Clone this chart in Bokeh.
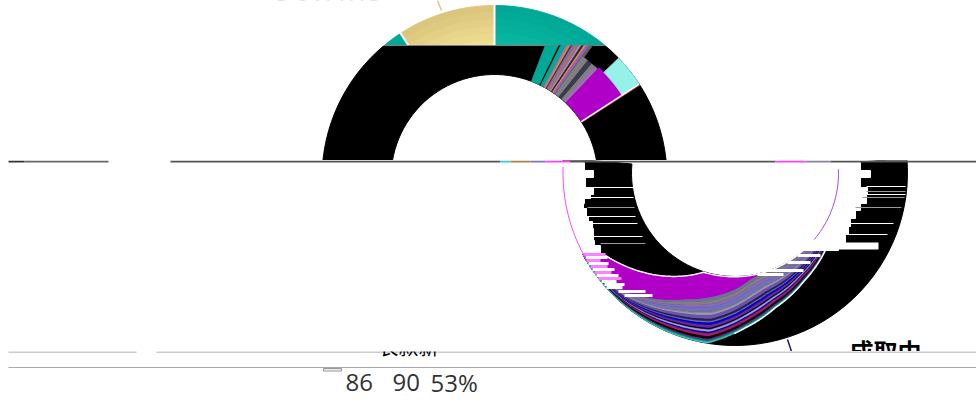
import numpy as np
from bokeh.plotting import figure
from bokeh.layouts import column
from bokeh.core.properties import value
from bokeh.embed import file_html
from bokeh.resources import INLINE

# ---------- data ----------
top_major_angles = [-39.5, -33.0, 0.0, 40.5]
top_major_colors = [("#00a896", "#00a896"), ("#dcc57d", "#efe092"), ("#00a896", "#0ab7a0")]
top_black_span = [-93, 93]
top_fan_sizes = [5.0, 0.6, 2.0, 0.5, 0.8, 0.6, 0.8, 0.6, 0.8, 0.6, 0.8, 0.6, 1.0, 0.8]
top_fan_colors = ["#00a896", "#000000", "#00a896", "#c060d0", "#e08040", "#404040", "#7070c0",
                  "#d06060", "#808080", "#c080c0", "#303030", "#e09050", "#9060c0", "#606060"]
top_gray_sizes = [2.5, 2.0, 1.5, 1.5]
top_gray_colors = ["#7f7f7f", "#3a3a50", "#7f7f7f", "#9a70b0"]
top_magenta = [43.5, 57.0]
top_aqua = [46.0, 57.0]

low_theta = [130.6, 147.0, 163.2, 176.0, 189.2, 240.0]
low_bottom_r = [119.0, 128.0, 140.5, 155.0, 172.5, 172.5]
low_top_theta = [130.6, 197.6, 237.5, 245.0]
low_top_r = [103.0, 104.0, 153.5, 172.5]
low_mag_theta = [165.0, 171.6, 180.0, 202.0, 221.7, 240.0]
low_mag_r = [103.0, 107.0, 116.0, 136.0, 160.0, 172.5]
strip_sizes = [5, 5, 4, 6, 2, 3, 5, 3, 2, 3, 4, 2, 3, 2, 4, 3, 2, 2, 1.5]
strip_colors = ["#6f6f9f", "#808080", "#8a6ab8", "#7070c0", "#808080", "#9a9ab0", "#7050b0",
                "#222244", "#7070c0", "#0000c8", "#6a2a90", "#000033", "#a0a0d0", "#0000b0",
                "#a02060", "#000000", "#702080", "#008f80", "#40d0c0"]

left_jag_y = [162, 170, 177, 187, 194, 198, 203, 208, 216, 221, 228, 233, 240, 245]
left_jag_x = [584, 593, 585, 593, 590, 584, 583, 586, 588, 592, 593, 593, 594, 600]
right_jag_y = [162, 170, 177, 187, 194, 203, 210, 218, 226, 234, 242, 250]
right_jag_x = [860, 870, 860, 867, 866, 860, 855, 850, 848, 845, 838, 833]
right_block = [833, 878, 242, 249]
left_lines_y = [187, 197, 207, 216, 223, 236, 243]
left_lines_x0 = [593, 590, 587, 587, 590, 593, 600]
left_lines_x1 = [633, 633, 634, 635, 637, 642, 645]
left_lines_c = ["#ffffff", "#ffffff", "#9a9a9a", "#ffffff", "#ffffff", "#ffffff", "#9a9a9a"]
right_lines_y = [186, 191, 194, 197, 207, 223, 234]
right_lines_x0 = [866, 866, 864, 862, 855, 840, 840]
right_lines_x1 = [905, 905, 905, 904, 901, 893, 887]
right_lines_c = ["#ffffff", "#9a9a9a", "#ffffff", "#9a9a9a", "#9a9a9a", "#ffffff", "#ffffff"]
mag_rows_y = [254, 257, 260, 263, 266, 269, 272, 275, 278, 281, 284, 287, 291, 295]
mag_rows_x0 = [583, 585, 586, 588, 590, 592, 594, 596, 598, 601, 604, 606, 618, 624]
mag_rows_x1 = [605, 607, 600, 608, 607, 614, 611, 618, 621, 616, 624, 622, 645, 652]
mag_rows_c = ["#ff80ff", "#ffffff", "#ff80ff", "#ffffff", "#ff80ff", "#ffffff", "#ff80ff",
              "#ffffff", "#ff80ff", "#ffffff", "#ffffff", "#ffffff", "#ffffff", "#ffffff"]
cut_rows_y = [255, 262, 270, 274]
cut_rows_x0 = [797, 787, 763, 757]
cut_rows_x1 = [820, 810, 803, 783]

line1_x0 = [8, 24, 170, 500, 510, 530, 545, 570, 775, 805, 830]
line1_x1 = [24, 108, 500, 510, 530, 545, 570, 775, 805, 830, 976]
line1_c = ["#333333", "#666666", "#555555", "#30d0d0", "#b08040", "#8070c0", "#ff40ff",
           "#555555", "#ff40ff", "#9080a0", "#555555"]
rule_x0 = [[8, 156], [8]]
rule_x1 = [[136, 976], [976]]

top_label = "5 6'.11.15"
big_parts = ["86", "90", "53%"]
big_parts_x = [345, 392, 430]
cut_title = "成取中"
cut_name = "长款新"

UPPER = (494.0, 177.5)
LOWER = (734.5, 172.5)
R_IN, R_OUT = 103.5, 172.5
W = 976


def xy(c, r, th):
    a = np.radians(np.asarray(th, float))
    return c[0] + np.asarray(r) * np.sin(a), c[1] - np.asarray(r) * np.cos(a)


def ring(c, r0, r1, t0, t1):
    th = np.linspace(t0, t1, 60)
    xa, ya = xy(c, r1, th)
    xb, yb = xy(c, r0, th[::-1])
    return list(xa) + list(xb), list(ya) + list(yb)


def band(y0, y1):
    p = figure(width=W, height=y1 - y0, x_range=(0, W), y_range=(y1, y0),
               x_axis_type=None, y_axis_type=None, output_backend="svg",
               toolbar_location=None, min_border=0, outline_line_color=None,
               background_fill_color="white", border_fill_color="white")
    p.grid.visible = False
    return p


def fill(p, parts, color):
    p.patch(parts[0], parts[1], fill_color=color, line_color=color, line_width=1)


def mix(a, b, f):
    ca = [int(a[i:i + 2], 16) for i in (1, 3, 5)]
    cb = [int(b[i:i + 2], 16) for i in (1, 3, 5)]
    return "#%02x%02x%02x" % tuple(int(x + (y - x) * f) for x, y in zip(ca, cb))


# ---- top slice: natural colours
a = band(0, 45)
for i in range(3):
    steps = np.linspace(R_OUT, 130, 7)
    for k in range(6):
        fill(a, ring(UPPER, steps[k + 1], steps[k], top_major_angles[i], top_major_angles[i + 1]),
             mix(top_major_colors[i][0], top_major_colors[i][1], k / 5))
for ang in top_major_angles[1:-1]:
    x, y = xy(UPPER, np.array([130, R_OUT + 2]), [ang, ang])
    a.line(x, y, line_color="white", line_width=2)
a.text([275], [-9], text=[top_label], text_color="#e0c77f", text_font=value("Open Sans"),
       text_font_size="24px", text_baseline="alphabetic")
a.line([437, 441], [0, 10], line_color="#e0c77f", line_width=1.5)

# ---- top ring: black with fan
b = band(45, 160)
fill(b, ring(UPPER, R_IN, R_OUT, top_black_span[0], top_black_span[1]), "#000000")
th = 21.0
for s, col in zip(top_fan_sizes, top_fan_colors):
    fill(b, ring(UPPER, R_IN, R_OUT, th, th + s), col)
    th += s
th = top_magenta[0] - sum(top_gray_sizes)
for s, col in zip(top_gray_sizes, top_gray_colors):
    fill(b, ring(UPPER, R_IN, 150, th, th + s), col)
    th += s
fill(b, ring(UPPER, R_IN, 152, top_magenta[0], top_magenta[1]), "#b000c8")
fill(b, ring(UPPER, 152, R_OUT, top_aqua[0], top_aqua[1]), "#96f2e8")
x, y = xy(UPPER, np.array([R_IN, R_OUT]), [top_magenta[1] + .4] * 2)
b.line(x, y, line_color="#e04030", line_width=1)
x, y = xy(UPPER, np.array([R_IN, R_OUT]), [top_magenta[1]] * 2)
b.line(x, y, line_color="white", line_width=1.5)

# ---- lower ring (with the rule between the two rings on its top edge)
c = band(160, 351)
fill(c, ring(LOWER, R_IN, R_OUT, 85, 275), "#000000")

th_grid = np.linspace(130.6, 245, 160)
r_top = np.interp(th_grid, low_top_theta, low_top_r)
r_bot = np.interp(th_grid, low_theta, low_bottom_r)
r_mag = np.minimum(np.maximum(np.interp(th_grid, low_mag_theta, low_mag_r), r_top), r_bot)
tt = np.cumsum([0] + strip_sizes) / sum(strip_sizes)
for i, col in enumerate(strip_colors):
    ra = r_mag + tt[i] * (r_bot - r_mag)
    rb = r_mag + tt[i + 1] * (r_bot - r_mag)
    xa, ya = xy(LOWER, ra, th_grid)
    xb, yb = xy(LOWER, rb, th_grid)
    c.patch(list(xa) + list(xb[::-1]), list(ya) + list(yb[::-1]), fill_color=col,
            line_color=col, line_width=0.5)
xa, ya = xy(LOWER, r_top, th_grid)
xb, yb = xy(LOWER, r_mag, th_grid)
c.patch(list(xa) + list(xb[::-1]), list(ya) + list(yb[::-1]), fill_color="#b000c8",
        line_color="#b000c8", line_width=0.5)
xa, ya = xy(LOWER, r_top, th_grid)
c.line(xa, ya, line_color="white", line_width=1.5)
xb, yb = xy(LOWER, r_bot[:70], th_grid[:70])
c.line(xb, yb, line_color="white", line_width=1.5)

# white jag on either side
ly = left_jag_y + [253]
c.quad(left=[550] * len(left_jag_x), right=left_jag_x, top=ly[:-1], bottom=ly[1:],
       fill_color="white", line_color="white", line_width=1)
ry = right_jag_y + [250]
c.quad(left=[734] * len(right_jag_x), right=right_jag_x, top=ry[:-1], bottom=ry[1:],
       fill_color="white", line_color="white", line_width=1)
c.quad(left=[right_block[0]], right=[right_block[1]], top=[right_block[2]], bottom=[right_block[3]],
       fill_color="white", line_color=None)
c.segment(left_lines_x0, left_lines_y, left_lines_x1, left_lines_y, line_color=left_lines_c, line_width=1)
c.segment(right_lines_x0, right_lines_y, right_lines_x1, right_lines_y, line_color=right_lines_c, line_width=1)
c.segment(mag_rows_x0, mag_rows_y, mag_rows_x1, mag_rows_y, line_color=mag_rows_c, line_width=3)
c.segment(cut_rows_x0, cut_rows_y, cut_rows_x1, cut_rows_y, line_color="white", line_width=3)

# hairlines on ring edges
th = np.linspace(240, 272, 40)
x, y = xy(LOWER, R_OUT - 0.5, th)
c.line(x, y, line_color="#ff40ff", line_width=1)
th = np.linspace(88, 130, 40)
x, y = xy(LOWER, R_IN, th)
c.line(x, y, line_color="#b040e0", line_width=1)

c.quad(left=line1_x0, right=line1_x1, bottom=[162] * len(line1_x0), top=[160] * len(line1_x0),
       fill_color=line1_c, line_color=None)
c.line([787, 791], [339, 351], line_color="#202050", line_width=1.5)
c.text([849], [350], text=[cut_title], text_color="#000000", text_font=value("Noto Sans CJK SC"),
       text_font_size="24px", text_font_style="bold", text_baseline="alphabetic")

# ---- footer
d = band(351, 400)
d.quad(left=rule_x0[0], right=rule_x1[0], top=[351, 351], bottom=[352, 352],
       fill_color="#999999", line_color=None)
d.quad(left=rule_x0[1], right=rule_x1[1], top=[366.5], bottom=[367.5],
       fill_color="#aaaaaa", line_color=None)
d.quad(left=[323], right=[341], top=[368], bottom=[370.5], fill_color="#eeeeee", line_color="#999999", line_width=1)
d.text([378], [346], text=[cut_name], text_color="#000000", text_font=value("Noto Sans CJK SC"),
       text_font_size="20px", text_baseline="alphabetic")
d.text(big_parts_x, [382] * 3, text=big_parts, text_color="#333333", text_font=value("Open Sans"),
       text_font_size="24px", text_baseline="alphabetic")

page = column(a, b, c, d, spacing=0, margin=0)
open("out.html", "w").write(file_html(page, INLINE))
